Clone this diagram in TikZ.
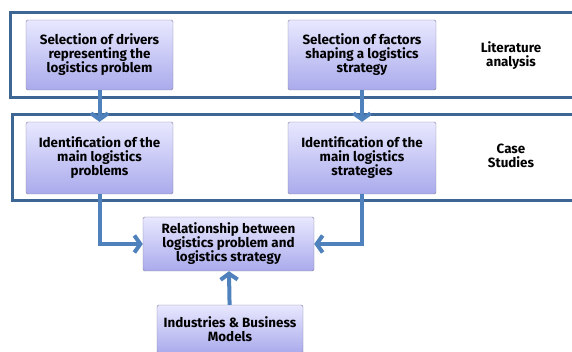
\documentclass[tikz,border=0pt]{standalone}
\usepackage{fontspec}
\setmainfont{Fira Sans}
\usetikzlibrary{arrows.meta}

\definecolor{framecol}{RGB}{62,102,148}
\definecolor{arrowcol}{RGB}{79,129,189}
\definecolor{boxtop}{RGB}{232,232,255}
\definecolor{boxbot}{RGB}{170,170,236}
\definecolor{boxline}{RGB}{128,128,160}

\tikzset{
  stagebox/.style={draw=boxline, rounded corners=1.5pt, top color=boxtop,
    bottom color=boxbot, align=center, inner sep=0pt,
    font=\bfseries\fontsize{13.4}{14}\selectfont},
  sidelabel/.style={align=center, font=\bfseries\fontsize{13.4}{14}\selectfont},
  frameline/.style={draw=framecol, line width=3pt},
  flow/.style={draw=arrowcol, line width=4pt,
    -{Straight Barb[length=6pt,width=17pt]}}
}

\begin{document}
\begin{tikzpicture}[x=1pt,y=-1pt]
\useasboundingbox (0,0) rectangle (572,352);

% Frames of the two stages
\draw [frameline] (10,13) rectangle (600,98);
\draw [frameline] (12,115) rectangle (600,201);

% Top row
\node [stagebox, minimum width=147pt, minimum height=70pt] (drivers) at (99.5,55)
  {Selection of drivers\\representing the\\logistics problem};
\node [stagebox, minimum width=148pt, minimum height=70pt] (factors) at (362,55)
  {Selection of factors\\shaping a logistics\\strategy};
\node [sidelabel] (lit) at (511,56) {Literature\\analysis};

% Middle row
\node [stagebox, minimum width=147pt, minimum height=72pt] (problems) at (99.5,158)
  {Identification of the\\main logistics\\problems};
\node [stagebox, minimum width=148pt, minimum height=72pt] (strategies) at (362,158)
  {Identification of the\\main logistics\\strategies};
\node [sidelabel] (cases) at (511,156) {Case\\Studies};

% Bottom boxes
\node [stagebox, minimum width=171pt, minimum height=54pt] (relation) at (228.5,244)
  {Relationship between\\logistics problem and\\logistics strategy};
\node [stagebox, minimum width=146pt, minimum height=48pt] (industries) at (230,329)
  {Industries \& Business\\Models};

% Connections
\draw [flow] (drivers) -- (problems);
\draw [flow] (factors) -- (strategies);
\draw [flow] (problems.south) |- (relation.west);
\draw [flow] (strategies.south) |- (relation.east);
\draw [flow] (industries) -- (relation);

\end{tikzpicture}
\end{document}
